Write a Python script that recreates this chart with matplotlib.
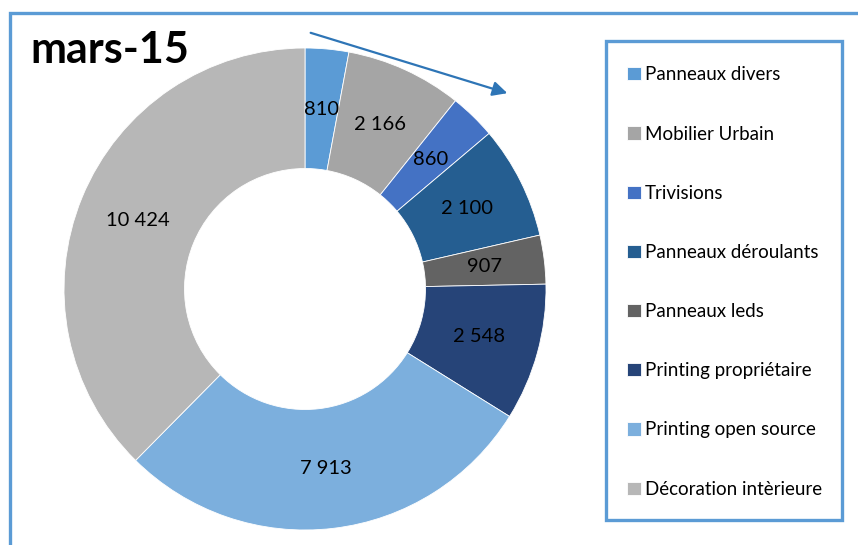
import numpy as np
import matplotlib.pyplot as plt
from matplotlib.patches import Rectangle, FancyArrowPatch

plt.rcParams['font.family'] = ['Lato', 'DejaVu Sans']

# data
categories = ["Panneaux divers", "Mobilier Urbain", "Trivisions", "Panneaux déroulants",
              "Panneaux leds", "Printing propriétaire", "Printing open source",
              "Décoration intèrieure"]
values = [810, 2166, 860, 2100, 907, 2548, 7913, 10424]
value_labels = ["810", "2 166", "860", "2 100", "907", "2 548", "7 913", "10 424"]
colors = ["#5B9BD5", "#A5A5A5", "#4472C4", "#255E91",
          "#636363", "#264478", "#7CAFDD", "#B7B7B7"]
title = "mars-15"

W, H = 858, 545
fig = plt.figure(figsize=(W / 100, H / 100), dpi=100)
fig.patch.set_facecolor('white')

# outer chart border (runs off right and bottom edges)
fig.patches.append(Rectangle((10 / W, -0.05), 1.0, (H - 13) / H + 0.05,
                             transform=fig.transFigure, fill=False,
                             edgecolor="#5B9BD5", linewidth=2.4, zorder=0))

# donut axes positioned in pixels
cx, cy, r = 305, 289, 241
ax = fig.add_axes([(cx - r) / W, (H - cy - r) / H, 2 * r / W, 2 * r / H])
wedges, _ = ax.pie(values, colors=colors, startangle=90, counterclock=False,
                   radius=1.0, wedgeprops=dict(width=0.5, edgecolor='white', linewidth=0.6))
ax.set_xlim(-1, 1)
ax.set_ylim(-1, 1)
ax.set_aspect('equal')
ax.axis('off')

# labels in the middle of the ring
for w, lab in zip(wedges, value_labels):
    ang = np.deg2rad((w.theta1 + w.theta2) / 2)
    ax.text(0.75 * np.cos(ang), 0.75 * np.sin(ang), lab, ha='center', va='center',
            fontsize=14.5, color='black')

# title
fig.text(30 / W, 1 - 50 / H, title, fontsize=31, fontweight='bold',
         ha='left', va='center', color='black')

# arrow
arrow = FancyArrowPatch((308 / W, 1 - 32 / H), (510 / W, 1 - 94 / H),
                        transform=fig.transFigure, arrowstyle='-|>',
                        mutation_scale=22, color="#2E75B6", linewidth=1.6)
fig.patches.append(arrow)

# legend box
fig.patches.append(Rectangle((606 / W, 1 - 520 / H), 236 / W, 479 / H,
                             transform=fig.transFigure, facecolor='white',
                             edgecolor="#5B9BD5", linewidth=2.4, zorder=1))
leg = fig.legend(wedges, categories, loc='upper left',
                 bbox_to_anchor=(618 / W, 1 - 57 / H), frameon=False,
                 fontsize=13.5, labelspacing=2.25, handlelength=0.7,
                 handleheight=0.7, handletextpad=0.25, borderpad=0)
leg.set_zorder(2)

fig.savefig("out.png", dpi=100, facecolor='white')
